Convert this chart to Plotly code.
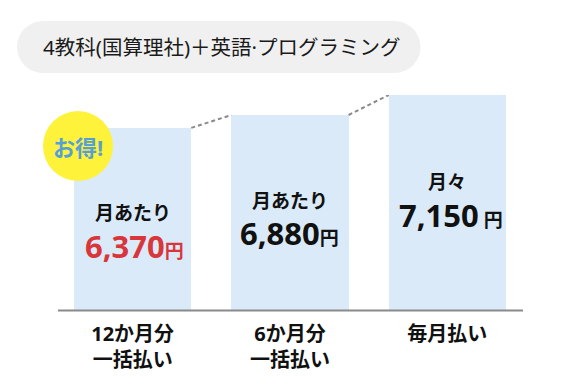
import plotly.graph_objects as go

# ---- data ----
title_text = "4教科(国算理社)＋英語·プログラミング"
categories = ["12か月分<br>一括払い", "6か月分<br>一括払い", "毎月払い"]
prices = [6370, 6880, 7150]
price_labels = ["6,370", "6,880", "7,150"]
unit_labels = ["月あたり", "月あたり", "月々"]
bar_heights = [84.7, 90.7, 100.0]   # illustrative bar heights as drawn (relative)
badge_text = "お得!"

# ---- style ----
OFF = 8                      # page body margin in the browser
W, H = 580 - OFF, 390 - OFF
BAR_COLOR = "#daeaf8"
RED = "#d9363b"
FONT = "Noto Sans, Noto Sans CJK JP, sans-serif"
BAR_W = 0.745


def px(x):
    return (x - OFF) / W


def py(y):
    return 1 - (y - OFF) / H


fig = go.Figure()

xs = list(range(len(categories)))
fig.add_trace(go.Bar(
    x=xs, y=bar_heights, width=BAR_W,
    marker=dict(color=BAR_COLOR, line=dict(width=0)),
    hoverinfo="skip", showlegend=False,
))

# dashed connectors between bar tops
for i in range(len(xs) - 1):
    fig.add_trace(go.Scatter(
        x=[xs[i] + BAR_W / 2, xs[i + 1] - BAR_W / 2],
        y=[bar_heights[i], bar_heights[i + 1]],
        mode="lines",
        line=dict(color="#8a8a8a", width=2, dash="4px,3px"),
        hoverinfo="skip", showlegend=False,
    ))

shapes = []
# title pill
pill = dict(fillcolor="#f0f0f0", line=dict(width=0), xref="paper", yref="paper", layer="below")
shapes.append(dict(type="rect", x0=px(43), x1=px(394.5), y0=py(73), y1=py(21), **pill))
shapes.append(dict(type="circle", x0=px(17), x1=px(69), y0=py(73), y1=py(21), **pill))
shapes.append(dict(type="circle", x0=px(368.5), x1=px(420.5), y0=py(73), y1=py(21), **pill))
# baseline
shapes.append(dict(type="line", xref="paper", yref="paper", x0=px(58), x1=px(523),
                   y0=py(310.5), y1=py(310.5), line=dict(color="#8a8a8a", width=2.2)))
# badge
shapes.append(dict(type="circle", xref="paper", yref="paper", x0=px(43), x1=px(113),
                   y0=py(181), y1=py(111), fillcolor="#fff23a", line=dict(width=0), layer="above"))

annotations = []
annotations.append(dict(xref="paper", yref="paper", x=px(41), y=py(47), xanchor="left", yanchor="middle",
                        text=title_text, showarrow=False,
                        font=dict(family=FONT, size=20.5, color="#1a1a1a")))
annotations.append(dict(xref="paper", yref="paper", x=px(78), y=py(147), xanchor="center", yanchor="middle",
                        text=badge_text, showarrow=False,
                        font=dict(family=FONT, size=22, color="#56a0d6", weight="bold")))

label_py = [213, 200.5, 182]          # pixel centres of the unit labels
price_py = [245.5, 233, 214.5]        # pixel centres of the prices
price_shift = [2, -1, 4]
price_colors = [RED, "#111111", "#111111"]
unit_gap = ["", "", " "]
for i in xs:
    annotations.append(dict(x=i, y=py(label_py[i]), xref="x", yref="paper", text=unit_labels[i],
                            showarrow=False, xanchor="center", yanchor="middle",
                            font=dict(family=FONT, size=19, color="#111111", weight="bold")))
    txt = (f"{price_labels[i]}"
           f"<span style='font-size:19px'>{unit_gap[i]}円</span>")
    annotations.append(dict(x=i, y=py(price_py[i]), xref="x", yref="paper", text=txt, showarrow=False,
                            xanchor="center", yanchor="middle", xshift=price_shift[i],
                            font=dict(family=FONT, size=31, color=price_colors[i], weight="bold")))

fig.update_layout(
    width=W, height=H,
    margin=dict(l=0, r=0, t=0, b=0),
    paper_bgcolor="white", plot_bgcolor="white",
    shapes=shapes, annotations=annotations,
    xaxis=dict(domain=[px(54), px(526)], range=[-0.5, 2.5], showgrid=False, zeroline=False,
               showline=False, ticks="", tickmode="array", tickvals=xs, ticktext=categories,
               tickfont=dict(family=FONT, size=20, color="#111111", weight="bold"),
               ticklabelstandoff=10, fixedrange=True),
    yaxis=dict(domain=[py(310), py(95)], range=[0, 100], showgrid=False, zeroline=False,
               showline=False, showticklabels=False, ticks="", fixedrange=True),
    bargap=0,
)

fig.write_html("out.html")
